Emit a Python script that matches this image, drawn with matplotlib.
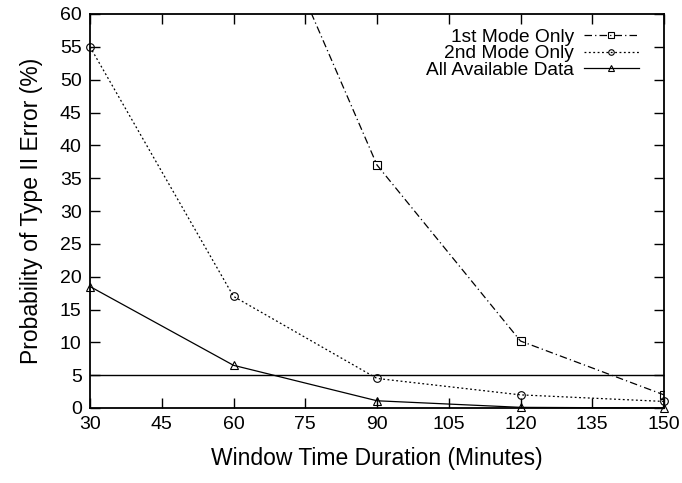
import matplotlib.pyplot as plt
import numpy as np

plt.rcParams['font.family'] = ['Liberation Sans', 'DejaVu Sans']

# window durations (minutes)
minutes = [30, 60, 90, 120, 150]
# probability of type II error (%)
mode1 = [100, 87.5, 37, 10.2, 2]      # 30 and 60 are above the plot range
mode2 = [55, 17, 4.5, 2, 1]
alldata = [18.5, 6.5, 1.1, 0.1, 0]
threshold = 5

xticks = np.arange(30, 151, 15)
yticks = np.arange(0, 61, 5)

fig = plt.figure(figsize=(6.82, 4.83), dpi=100)
ax = fig.add_axes([90/682, 75/483, 574/682, 394/483])

ax.plot(minutes, mode1, color='black', lw=0.9, linestyle=(0, (6, 2.5, 1, 2.5)),
        marker='s', ms=5.5, mfc='none', mew=0.8, label='1st Mode Only', clip_on=False)
ax.plot(minutes, mode2, color='black', lw=0.9, linestyle=(0, (1.5, 2)),
        marker='o', ms=5.5, mfc='none', mew=0.8, label='2nd Mode Only', clip_on=False)
ax.plot(minutes, alldata, color='black', lw=0.9, linestyle='-',
        marker='^', ms=5.5, mfc='none', mew=0.8, label='All Available Data', clip_on=False)
ax.axhline(threshold, color='black', lw=1.0)

# clip mode1 to the axes top (only this series leaves the range)
ax.lines[0].set_clip_on(True)

ax.set_xlim(30, 150)
ax.set_ylim(0, 60)
ax.set_xticks(xticks)
ax.set_yticks(yticks)
ax.tick_params(direction='in', length=7.5, width=1, top=True, right=True,
               labelsize=14, pad=6)
for s in ax.spines.values():
    s.set_linewidth(1.3)

ax.set_xlabel('Window Time Duration (Minutes)', fontsize=16.5, labelpad=10)
ax.set_ylabel('Probability of Type II Error (%)', fontsize=16.5, labelpad=12)

leg = ax.legend(loc='upper right', frameon=False, markerfirst=False, numpoints=1,
                handlelength=2.9, fontsize=13.8, labelspacing=-0.05, handletextpad=0.5,
                borderaxespad=0.3, bbox_to_anchor=(0.98, 0.997))
for h in leg.legend_handles:
    h.set_markersize(4)

fig.savefig('out.png', dpi=100)
